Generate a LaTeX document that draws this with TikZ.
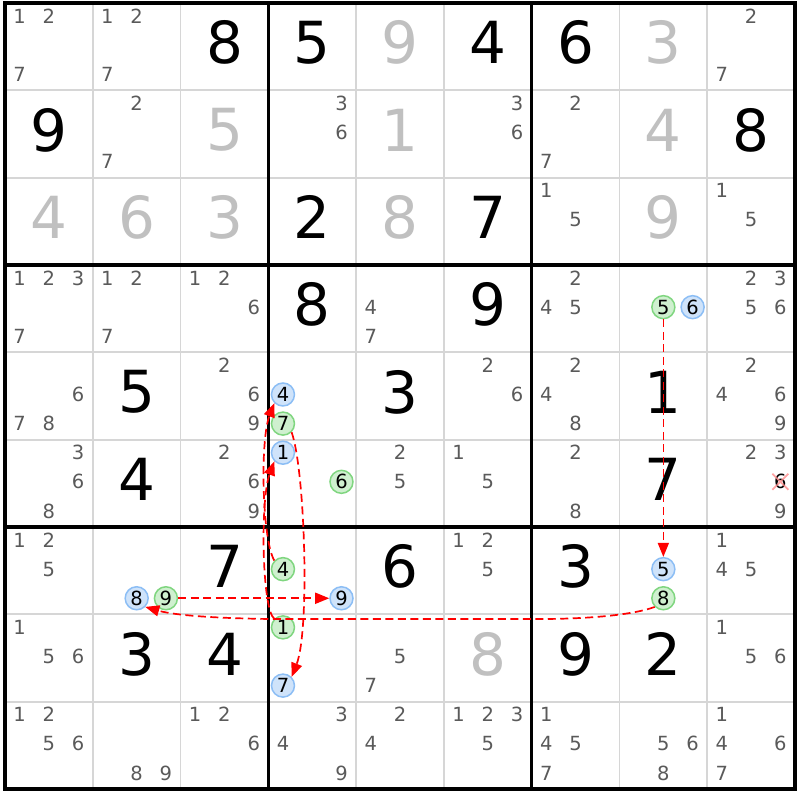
\documentclass[tikz,border=0pt]{standalone}
\usepackage{fontspec}
\setmainfont{DejaVu Sans}
\usetikzlibrary{arrows.meta}
\definecolor{candgray}{RGB}{90,90,90}
\definecolor{solvedgray}{RGB}{192,192,192}
\definecolor{thinline}{RGB}{214,214,214}
\definecolor{gfill}{RGB}{207,240,207}
\definecolor{gdraw}{RGB}{128,214,128}
\definecolor{bfill}{RGB}{207,227,250}
\definecolor{bdraw}{RGB}{140,190,245}
\definecolor{chainred}{RGB}{255,0,0}
\definecolor{xpink}{RGB}{255,140,140}
% given / solved digit: col,row,digit,style
\newcommand\gv[4]{\node[#4] (n#2#1) at ({5+(#1-0.5)*87.78},{3+(#2-0.5)*87.33-4}) {#3};}
% plain candidates: col,row,list
\newcommand\cds[3]{\foreach \d in {#3}{%
  \pgfmathtruncatemacro\kx{mod(\d-1,3)}%
  \pgfmathtruncatemacro\ky{(\d-1)/3}%
  \node[cand] (k#2#1\d) at ({5+(#1-1)*87.78+(2*\kx+1)*14.63},{3+(#2-1)*87.33+(2*\ky+1)*14.555-1.5}) {\d};}}
% circled candidate: col,row,digit,style,name
\newcommand\cc[5]{%
  \pgfmathtruncatemacro\kx{mod(#3-1,3)}%
  \pgfmathtruncatemacro\ky{(#3-1)/3}%
  \node[#4] (#5) at ({5+(#1-1)*87.78+(2*\kx+1)*14.63},{3+(#2-1)*87.33+(2*\ky+1)*14.555-1.5}) {#3};}
\begin{document}
\begin{tikzpicture}[x=1pt,y=-1pt,
  given/.style={font=\fontsize{58}{58}\selectfont, text=black, inner sep=0},
  solved/.style={given, text=solvedgray},
  cand/.style={font=\fontsize{19.5}{19.5}\selectfont, text=candgray, inner sep=0},
  xcand/.style={cand, text=black},
  gcirc/.style={circle, minimum size=23pt, inner sep=0, fill=gfill, draw=gdraw, line width=1.5pt, font=\fontsize{19.5}{19.5}\selectfont, text=black},
  bcirc/.style={gcirc, fill=bfill, draw=bdraw},
  thingrid/.style={draw=thinline, line width=1.8pt},
  thickgrid/.style={draw=black, line width=3.2pt},
  chain/.style={draw=chainred, line width=1.7pt, dash pattern=on 8pt off 4.5pt, -{Triangle[length=14pt,width=11pt]}},
]
\fill[white] (0,0) rectangle (800,800);
\useasboundingbox (0,0) rectangle (800,800);
% grid
\foreach \i in {1,2,4,5,7,8}{
  \draw[thingrid] ({5+\i*87.78},3) -- ({5+\i*87.78},789);
  \draw[thingrid] (5,{3+\i*87.33}) -- (795,{3+\i*87.33});
}
\foreach \i in {3,6}{
  \draw[thickgrid] ({5+\i*87.78},3) -- ({5+\i*87.78},789);
  \draw[thickgrid] (5,{3+\i*87.33}) -- (795,{3+\i*87.33});
}
\draw[thickgrid] (5,3) rectangle (795,789);
% row 1
\cds{1}{1}{1,2,7} \cds{2}{1}{1,2,7} \gv{3}{1}{8}{given} \gv{4}{1}{5}{given} \gv{5}{1}{9}{solved} \gv{6}{1}{4}{given} \gv{7}{1}{6}{given} \gv{8}{1}{3}{solved} \cds{9}{1}{2,7}
% row 2
\gv{1}{2}{9}{given} \cds{2}{2}{2,7} \gv{3}{2}{5}{solved} \cds{4}{2}{3,6} \gv{5}{2}{1}{solved} \cds{6}{2}{3,6} \cds{7}{2}{2,7} \gv{8}{2}{4}{solved} \gv{9}{2}{8}{given}
% row 3
\gv{1}{3}{4}{solved} \gv{2}{3}{6}{solved} \gv{3}{3}{3}{solved} \gv{4}{3}{2}{given} \gv{5}{3}{8}{solved} \gv{6}{3}{7}{given} \cds{7}{3}{1,5} \gv{8}{3}{9}{solved} \cds{9}{3}{1,5}
% row 4
\cds{1}{4}{1,2,3,7} \cds{2}{4}{1,2,7} \cds{3}{4}{1,2,6} \gv{4}{4}{8}{given} \cds{5}{4}{4,7} \gv{6}{4}{9}{given} \cds{7}{4}{2,4,5} \cc{8}{4}{5}{gcirc}{p48g5} \cc{8}{4}{6}{bcirc}{p48b6} \cds{9}{4}{2,3,5,6}
% row 5
\cds{1}{5}{6,7,8} \gv{2}{5}{5}{given} \cds{3}{5}{2,6,9} \cc{4}{5}{4}{bcirc}{p54b4} \cc{4}{5}{7}{gcirc}{p54g7} \gv{5}{5}{3}{given} \cds{6}{5}{2,6} \cds{7}{5}{2,4,8} \gv{8}{5}{1}{given} \cds{9}{5}{2,4,6,9}
% row 6
\cds{1}{6}{3,6,8} \gv{2}{6}{4}{given} \cds{3}{6}{2,6,9} \cc{4}{6}{1}{bcirc}{p64b1} \cc{4}{6}{6}{gcirc}{p64g6} \cds{5}{6}{2,5} \cds{6}{6}{1,5} \cds{7}{6}{2,8} \gv{8}{6}{7}{given} \cds{9}{6}{2,3,9}
\cc{9}{6}{6}{xcand}{x696}
\draw[xpink, line width=1.8pt, opacity=0.8] (x696.center) ++(-8,-8) -- ++(16,16) ++(-16,0) -- ++(16,-16);
% row 7
\cds{1}{7}{1,2,5} \cc{2}{7}{8}{bcirc}{p72b8} \cc{2}{7}{9}{gcirc}{p72g9} \gv{3}{7}{7}{given} \cc{4}{7}{4}{gcirc}{p74g4} \cc{4}{7}{9}{bcirc}{p74b9} \gv{5}{7}{6}{given} \cds{6}{7}{1,2,5} \gv{7}{7}{3}{given} \cc{8}{7}{5}{bcirc}{p78b5} \cc{8}{7}{8}{gcirc}{p78g8} \cds{9}{7}{1,4,5}
% row 8
\cds{1}{8}{1,5,6} \gv{2}{8}{3}{given} \gv{3}{8}{4}{given} \cc{4}{8}{1}{gcirc}{p84g1} \cc{4}{8}{7}{bcirc}{p84b7} \cds{5}{8}{5,7} \gv{6}{8}{8}{solved} \gv{7}{8}{9}{given} \gv{8}{8}{2}{given} \cds{9}{8}{1,5,6}
% row 9
\cds{1}{9}{1,2,5,6} \cds{2}{9}{8,9} \cds{3}{9}{1,2,6} \cds{4}{9}{3,4,9} \cds{5}{9}{2,4} \cds{6}{9}{1,2,3,5} \cds{7}{9}{1,4,5,7} \cds{8}{9}{5,6,8} \cds{9}{9}{1,4,6,7}
% chain
\draw[chain] (p48g5) -- (p78b5);
\draw[chain] (p78g8.south west) .. controls (630,616) and (580,619) .. (540,619) -- (270,619) .. controls (200,618) and (170,614) .. (p72b8.south east);
\draw[chain] (p72g9) -- (p74b9);
\draw[chain] (p74g4.north west) .. controls (262,540) and (260,440) .. (p54b4.south west);
\draw[chain] (p84g1.north west) .. controls (262,610) and (260,500) .. (p64b1.south west);
\draw[chain] (p54g7.south east) .. controls (305,470) and (310,630) .. (p84b7.north east);
\end{tikzpicture}
\end{document}
